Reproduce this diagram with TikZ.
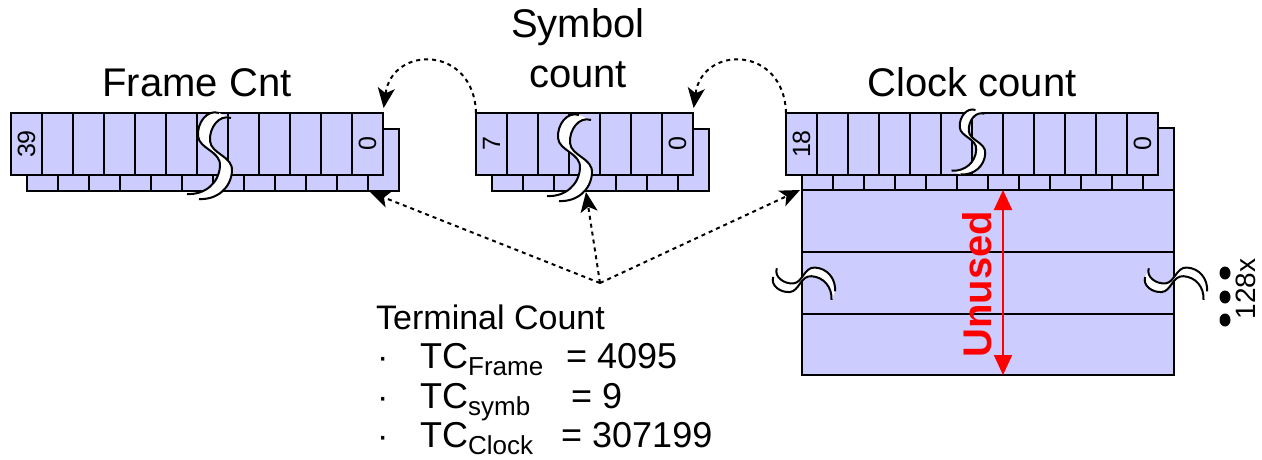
\documentclass[tikz,border=0pt]{standalone}
\usepackage{fontspec}
\setmainfont{Liberation Sans}
\usetikzlibrary{arrows.meta,calc}
\definecolor{regfill}{RGB}{204,204,255}
\tikzset{
  regbox/.style={draw=black, line width=2, fill=regfill, inner sep=0, outer sep=0, anchor=north west},
  cellline/.style={draw=black, line width=2},
  darr/.style={draw=black, line width=2, dash pattern=on 4pt off 4pt, -{Stealth[length=20,width=17,inset=5]}},
  titletext/.style={font=\fontsize{40}{44}\selectfont, anchor=base, inner sep=0},
  numtext/.style={font=\fontsize{25}{25}\selectfont, rotate=90, inner sep=0},
  tctext/.style={font=\fontsize{34}{38}\selectfont, anchor=base west, inner sep=0},
  tcline/.style={font=\fontsize{36}{40}\selectfont, anchor=base west, inner sep=0},
  brk/.pic={
    \fill[white] (14,-40) .. controls (2,-44) and (-8,-30) .. (-7,-17) .. controls (-6,-4) and (16,-2) .. (15,13) .. controls (14,30) and (0,42) .. (-18,41)
      -- (-6,46) .. controls (12,47) and (26,35) .. (27,18) .. controls (28,3) and (6,1) .. (5,-12) .. controls (4,-25) and (14,-39) .. (26,-35) -- cycle;
    \draw[line width=2] (14,-40) .. controls (2,-44) and (-8,-30) .. (-7,-17) .. controls (-6,-4) and (16,-2) .. (15,13) .. controls (14,30) and (0,42) .. (-18,41);
    \draw[line width=2] (26,-35) .. controls (14,-39) and (4,-25) .. (5,-12) .. controls (6,1) and (28,3) .. (27,18) .. controls (26,35) and (12,47) .. (-6,46);
  }
}
\newcommand{\regcells}[3]{% front x0, y0, n cells
  \foreach \k in {1,...,\numexpr#3-1\relax}{
    \draw[cellline] ({#1+31*\k},#2) -- ({#1+31*\k},{#2+62});
    \draw[cellline] ({#1+16+31*\k},{#2+62}) -- ({#1+16+31*\k},{#2+78});
  }
}
\newcommand{\subtc}[1]{\raisebox{-7pt}{\fontsize{26}{26}\selectfont #1}}
\begin{document}
\begin{tikzpicture}[x=1pt,y=-1pt]
\useasboundingbox (0,0) rectangle (1262,460);

% ---------- titles
\node[titletext] (tFrame) at (197,96) {Frame Cnt};
\node[titletext] (tSym1) at (578,38) {Symbol};
\node[titletext] (tSym2) at (578,88) {count};
\node[titletext] (tClock) at (972,96) {Clock count};

% ---------- big clock memory block
\node[regbox, minimum width=372, minimum height=185] (big) at (802,190) {};
\draw[cellline] (802,252) -- (1174,252);
\draw[cellline] (802,314) -- (1174,314);

% ---------- back boxes
\node[regbox, minimum width=372, minimum height=62] (bF) at (27,129) {};
\node[regbox, minimum width=217, minimum height=62] (bS) at (492,129) {};
\node[regbox, minimum width=372, minimum height=62] (bC) at (802,128) {};
% ---------- front boxes
\node[regbox, minimum width=372, minimum height=62] (fF) at (11,113) {};
\node[regbox, minimum width=217, minimum height=62] (fS) at (476,113) {};
\node[regbox, minimum width=372, minimum height=62] (fC) at (786,113) {};
\regcells{11}{113}{12}
\regcells{476}{113}{7}
\regcells{786}{113}{12}

% ---------- breaks
\pic at (205,153) {brk};
\pic at (565,155) {brk};
\pic[scale=0.75] at (965,140) {brk};
\pic[scale=0.72, rotate=90] at (802,287) {brk};
\pic[scale=0.72, rotate=90] at (1174,287) {brk};

% ---------- bit numbers
\node[numtext] (n39) at ($(fF.west)+(15.5,0)$) {39};
\node[numtext] (n0F) at ($(fF.east)+(-15.5,0)$) {0};
\node[numtext] (n7) at ($(fS.west)+(15.5,0)$) {7};
\node[numtext] (n0S) at ($(fS.east)+(-15.5,0)$) {0};
\node[numtext] (n18) at ($(fC.west)+(15.5,0)$) {18};
\node[numtext] (n0C) at ($(fC.east)+(-15.5,0)$) {0};

% ---------- carry arrows
\draw[darr, shorten >=5] (fS.north west) .. controls +(-2,-68) and +(9,-68) .. (fF.north east);
\draw[darr, shorten >=5] (fC.north west) .. controls +(-2,-68) and +(9,-68) .. (fS.north east);

% ---------- terminal count arrows
\coordinate (tc) at (600,283);
\coordinate (tF) at ($(bF.south east)+(-29,1)$);
\coordinate (tS) at ($(bS.south west)+(94,1)$);
\coordinate (tC) at ($(big.north west)+(-2,0)$);
\draw[darr] (tc) -- (tF);
\draw[darr] (tc) -- (tS);
\draw[darr] (tc) -- (tC);

% ---------- Unused
\coordinate (uTop) at ($(big.north west)+(201,0)$);
\coordinate (uBot) at ($(big.south west)+(201,0)$);
\draw[red, line width=2, {Triangle[length=20,width=18]}-{Triangle[length=20,width=18]}] (uTop) -- (uBot);
\node[red, font=\fontsize{40}{40}\selectfont\bfseries, rotate=90, inner sep=0] (unused) at (977,284) {Unused};

% ---------- 128x
\fill (1225,273) ellipse (5.5 and 6.5);
\fill (1225,297) ellipse (5.5 and 6.5);
\fill (1225,320) ellipse (5.5 and 6.5);
\node[font=\fontsize{28}{28}\selectfont, rotate=90, inner sep=0] (n128) at (1246,289) {128x};

% ---------- terminal count text
\node[tctext] (tct) at (376,329) {Terminal Count};
\node[tctext] (b1) at (377,368) {·};
\node[tctext] (b2) at (377,408) {·};
\node[tctext] (b3) at (377,447) {·};
\node[tcline] (l1) at (420,368) {TC\subtc{Frame}};
\node[tcline] (e1) at (566,368) {= 4095};
\node[tcline] (l2) at (420,408) {TC\subtc{symb}};
\node[tcline] (e2) at (571,408) {= 9};
\node[tcline] (l3) at (420,447) {TC\subtc{Clock}};
\node[tcline] (e3) at (561,447) {= 307199};
\end{tikzpicture}
\end{document}
